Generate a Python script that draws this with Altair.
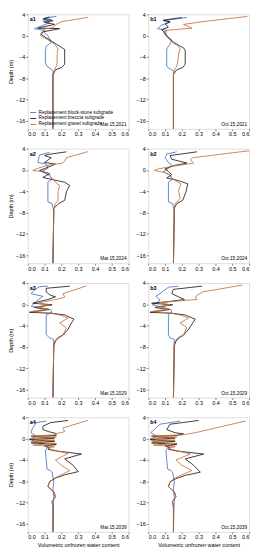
import altair as alt
import pandas as pd

SERIES = ["Replacement block-stone subgrade", "Replacement breccia subgrade", "Replacement gravel subgrade"]
COLORS = ["#4a6fc6", "#1c1c1c", "#c8703a"]
X_TICKS = [0.0, 0.1, 0.2, 0.3, 0.4, 0.5, 0.6]
Y_TICKS = [4, 0, -4, -8, -12, -16]

# ---- a1 (Mar.15,2021)
a1_block_d = [3.6, 3.3, 3.0, 2.7, 2.4, 1.3, 1.0, 0.5, 0.0, -0.6, -1.3, -2.0, -3.0, -5.0, -5.8, -6.3, -6.7, -8.0, -17.5]
a1_block_w = [0.17, 0.10, 0.14, 0.09, 0.13, 0.04, 0.10, 0.10, 0.12, 0.13, 0.14, 0.11, 0.105, 0.105, 0.115, 0.14, 0.15, 0.15, 0.15]
a1_breccia_d = [3.5, 3.1, 2.8, 2.5, 2.1, 1.4, 1.3, 0.7, 0.2, -0.4, -1.0, -1.6, -2.2, -2.6, -5.4, -6.0, -6.4, -7.4, -17.5]
a1_breccia_w = [0.13, 0.09, 0.15, 0.10, 0.16, 0.06, 0.19, 0.09, 0.08, 0.11, 0.14, 0.17, 0.20, 0.22, 0.22, 0.20, 0.165, 0.15, 0.15]
a1_gravel_d = [3.45, 2.6, 2.1, 1.5, 1.3, 0.6, 0.0, -0.8, -1.6, -2.4, -3.5, -5.0, -5.8, -6.3, -7.2, -9.0, -17.5]
a1_gravel_w = [0.36, 0.20, 0.17, 0.15, 0.11, 0.08, 0.075, 0.12, 0.16, 0.18, 0.175, 0.175, 0.17, 0.16, 0.15, 0.15, 0.15]

# ---- b1 (Oct.15,2021)
b1_block_d = [3.4, 2.8, 2.5, 2.0, 1.3, 1.0, 0.2, -0.4, -1.0, -1.6, -2.0, -2.6, -5.7, -6.1, -6.6, -8.0, -17.5]
b1_block_w = [0.23, 0.09, 0.13, 0.08, 0.055, 0.11, 0.10, 0.12, 0.14, 0.13, 0.12, 0.11, 0.11, 0.12, 0.15, 0.15, 0.15]
b1_breccia_d = [3.4, 2.9, 2.6, 2.2, 1.6, 1.1, 0.5, 0.0, -0.6, -1.2, -1.8, -2.3, -2.8, -5.4, -6.0, -6.4, -7.3, -17.5]
b1_breccia_w = [0.20, 0.09, 0.13, 0.10, 0.12, 0.08, 0.10, 0.11, 0.13, 0.15, 0.18, 0.21, 0.22, 0.22, 0.205, 0.17, 0.15, 0.15]
b1_gravel_d = [3.6, 2.6, 2.1, 1.4, 1.0, 0.6, 0.1, -0.5, -1.2, -1.8, -2.4, -3.5, -5.0, -5.7, -6.2, -7.0, -9.0, -17.5]
b1_gravel_w = [0.59, 0.32, 0.21, 0.26, 0.11, 0.09, 0.10, 0.12, 0.14, 0.17, 0.19, 0.18, 0.175, 0.17, 0.16, 0.15, 0.15, 0.15]

# ---- a2 (Mar.15,2024)
a2_block_d = [3.3, 2.8, 1.4, 1.1, 0.3, -0.3, -1.0, -1.7, -2.3, -6.0, -6.3, -7.8, -17.5]
a2_block_w = [0.13, 0.07, 0.06, 0.11, 0.12, 0.08, 0.13, 0.145, 0.12, 0.12, 0.145, 0.155, 0.15]
a2_breccia_d = [3.4, 2.9, 2.7, 2.3, 1.4, 1.1, 0.5, -0.1, -0.7, -1.4, -1.7, -2.0, -2.3, -2.9, -4.1, -5.7, -6.3, -7.2, -17.5]
a2_breccia_w = [0.23, 0.12, 0.10, 0.14, 0.10, 0.165, 0.12, 0.07, 0.13, 0.09, 0.13, 0.175, 0.22, 0.25, 0.23, 0.22, 0.185, 0.155, 0.15]
a2_gravel_d = [3.45, 2.3, 1.7, 1.3, 0.8, 0.3, -0.1, -0.3, -0.7, -1.7, -2.6, -2.9, -4.1, -5.7, -6.3, -7.2, -17.5]
a2_gravel_w = [0.36, 0.23, 0.22, 0.21, 0.11, 0.06, 0.03, 0.09, 0.125, 0.145, 0.175, 0.19, 0.18, 0.18, 0.165, 0.155, 0.15]

# ---- b2 (Oct.15,2024)
b2_block_d = [3.4, 3.0, 2.3, 1.4, 0.9, 0.3, -0.3, -1.0, -1.7, -2.3, -6.0, -6.3, -7.8, -17.5]
b2_block_w = [0.17, 0.11, 0.10, 0.12, 0.14, 0.12, 0.09, 0.13, 0.145, 0.12, 0.12, 0.145, 0.155, 0.15]
b2_breccia_d = [3.4, 2.7, 2.0, 1.7, 1.3, 0.8, 0.2, -0.3, -0.9, -1.5, -2.0, -2.6, -4.1, -5.7, -6.3, -7.2, -17.5]
b2_breccia_w = [0.29, 0.13, 0.14, 0.18, 0.23, 0.15, 0.10, 0.12, 0.14, 0.11, 0.18, 0.235, 0.225, 0.205, 0.17, 0.155, 0.15]
b2_gravel_d = [3.6, 2.3, 1.9, 1.3, 0.7, 0.2, -0.1, -0.5, -1.0, -1.7, -2.6, -3.8, -5.4, -6.3, -7.2, -17.5]
b2_gravel_w = [0.60, 0.265, 0.25, 0.27, 0.15, 0.06, 0.035, 0.10, 0.13, 0.145, 0.195, 0.18, 0.19, 0.16, 0.155, 0.15]

# ---- a3 (Mar.15,2029)
a3_block_d = [3.4, 3.3, 2.7, 2.0, 1.7, 1.5, 0.8, 0.2, -0.4, -0.7, -1.0, -1.5, -2.0, -5.7, -6.3, -6.6, -17.5]
a3_block_w = [0.12, 0.07, 0.04, 0.02, 0.06, 0.09, 0.06, 0.04, 0.02, 0.08, 0.135, 0.145, 0.11, 0.11, 0.13, 0.155, 0.15]
a3_breccia_d = [3.4, 3.0, 2.3, 1.7, 1.4, 0.9, 0.2, -0.1, -0.6, -1.0, -1.5, -1.7, -2.0, -2.8, -3.5, -4.7, -5.8, -6.3, -6.9, -7.8, -17.5]
a3_breccia_w = [0.25, 0.11, 0.11, 0.135, 0.165, 0.12, 0.03, 0.145, 0.04, 0.125, 0.01, 0.145, 0.22, 0.275, 0.26, 0.24, 0.21, 0.185, 0.165, 0.155, 0.15]
a3_gravel_d = [3.45, 2.0, 1.3, 0.9, 0.5, 0.2, -0.1, -0.5, -0.9, -1.3, -1.7, -2.1, -2.6, -3.5, -4.4, -5.7, -6.3, -7.2, -17.5]
a3_gravel_w = [0.35, 0.21, 0.22, 0.165, 0.10, 0.06, 0.13, 0.05, 0.12, 0.03, 0.14, 0.20, 0.24, 0.19, 0.23, 0.21, 0.175, 0.155, 0.15]

# ---- b3 (Oct.15,2029)
b3_block_d = [3.4, 3.2, 2.0, 1.5, 0.8, 0.2, -0.1, -0.5, -1.0, -1.5, -2.0, -5.7, -6.3, -6.6, -17.5]
b3_block_w = [0.18, 0.12, 0.07, 0.045, 0.07, 0.05, 0.025, 0.08, 0.135, 0.14, 0.12, 0.12, 0.13, 0.155, 0.15]
b3_breccia_d = [3.4, 2.8, 2.0, 1.4, 0.9, 0.5, 0.2, -0.1, -0.6, -1.0, -1.5, -1.7, -2.0, -2.8, -3.5, -4.7, -5.8, -6.3, -6.9, -7.8, -17.5]
b3_breccia_w = [0.32, 0.15, 0.14, 0.18, 0.215, 0.12, 0.02, 0.145, 0.04, 0.125, 0.01, 0.145, 0.22, 0.28, 0.265, 0.24, 0.21, 0.185, 0.165, 0.155, 0.15]
b3_gravel_d = [3.6, 2.3, 1.4, 0.9, 0.7, 0.3, -0.1, -0.5, -0.9, -1.3, -1.7, -2.1, -2.6, -3.5, -4.4, -5.7, -6.3, -7.2, -17.5]
b3_gravel_w = [0.56, 0.32, 0.28, 0.29, 0.205, 0.07, 0.13, 0.05, 0.12, 0.03, 0.14, 0.20, 0.24, 0.19, 0.23, 0.21, 0.175, 0.155, 0.15]

# ---- a4 (Mar.15,2039)
a4_block_d = [3.3, 3.0, 2.0, 1.4, 1.1, 0.5, -0.1, -0.6, -1.0, -1.5, -2.3, -5.7, -6.0, -6.3, -8.1, -9.5, -11.0, -17.5]
a4_block_w = [0.11, 0.05, 0.03, 0.02, 0.02, 0.05, 0.02, 0.04, 0.10, 0.12, 0.105, 0.115, 0.135, 0.145, 0.155, 0.15, 0.155, 0.15]
a4_breccia_d = [3.4, 3.0, 2.3, 1.7, 1.3, 1.0, 0.6, 0.4, 0.1, -0.2, -0.5, -0.8, -1.1, -1.4, -1.7, -2.0, -2.3, -2.9, -3.8, -5.0, -6.2, -6.8, -7.4, -8.1, -9.0, -10.0, -10.9, -11.8, -13.0, -17.5]
a4_breccia_w = [0.24, 0.135, 0.09, 0.09, 0.125, 0.165, 0.17, 0.02, 0.16, 0.01, 0.16, 0.02, 0.17, 0.10, 0.13, 0.12, 0.165, 0.32, 0.22, 0.27, 0.30, 0.22, 0.165, 0.13, 0.12, 0.155, 0.165, 0.145, 0.15, 0.15]
a4_gravel_d = [3.45, 2.0, 1.3, 0.9, 0.7, 0.5, 0.3, 0.0, -0.3, -0.6, -0.9, -1.2, -1.5, -1.8, -2.1, -2.8, -4.0, -5.0, -6.0, -6.8, -7.4, -8.1, -9.0, -10.0, -10.9, -11.8, -13.0, -17.5]
a4_gravel_w = [0.36, 0.21, 0.22, 0.165, 0.16, 0.02, 0.17, 0.01, 0.16, 0.02, 0.17, 0.03, 0.16, 0.12, 0.15, 0.24, 0.165, 0.20, 0.25, 0.20, 0.16, 0.13, 0.12, 0.155, 0.165, 0.145, 0.15, 0.15]

# ---- b4 (Oct.15,2039)
b4_block_d = [3.3, 2.7, 1.7, 1.1, 0.5, -0.1, -0.6, -1.0, -1.5, -2.3, -5.7, -6.0, -6.3, -8.1, -9.5, -11.0, -17.5]
b4_block_w = [0.19, 0.07, 0.035, 0.015, 0.05, 0.02, 0.04, 0.10, 0.12, 0.105, 0.115, 0.135, 0.145, 0.155, 0.15, 0.155, 0.15]
b4_breccia_d = [3.4, 2.7, 1.7, 1.1, 0.9, 0.6, 0.4, 0.1, -0.2, -0.5, -0.8, -1.1, -1.4, -1.7, -2.0, -2.3, -2.9, -3.8, -5.0, -6.3, -6.9, -7.5, -8.1, -9.0, -10.0, -10.9, -11.8, -13.0, -17.5]
b4_breccia_w = [0.30, 0.13, 0.11, 0.16, 0.21, 0.17, 0.02, 0.16, 0.01, 0.16, 0.02, 0.17, 0.10, 0.13, 0.12, 0.165, 0.33, 0.22, 0.27, 0.31, 0.22, 0.165, 0.13, 0.12, 0.155, 0.165, 0.145, 0.15, 0.15]
b4_gravel_d = [3.3, 1.7, 1.1, 0.7, 0.5, 0.3, 0.0, -0.3, -0.6, -0.9, -1.2, -1.5, -1.8, -2.1, -2.9, -4.0, -5.0, -6.0, -6.8, -7.4, -8.1, -9.0, -10.0, -10.9, -11.8, -13.0, -17.5]
b4_gravel_w = [0.58, 0.36, 0.28, 0.20, 0.02, 0.17, 0.01, 0.16, 0.02, 0.17, 0.03, 0.16, 0.12, 0.15, 0.25, 0.165, 0.20, 0.26, 0.20, 0.16, 0.13, 0.12, 0.155, 0.165, 0.145, 0.15, 0.15]

PANELS = [
    ("a1", "Mar.15,2021", [(a1_block_d, a1_block_w), (a1_breccia_d, a1_breccia_w), (a1_gravel_d, a1_gravel_w)]),
    ("b1", "Oct.15,2021", [(b1_block_d, b1_block_w), (b1_breccia_d, b1_breccia_w), (b1_gravel_d, b1_gravel_w)]),
    ("a2", "Mar.15,2024", [(a2_block_d, a2_block_w), (a2_breccia_d, a2_breccia_w), (a2_gravel_d, a2_gravel_w)]),
    ("b2", "Oct.15,2024", [(b2_block_d, b2_block_w), (b2_breccia_d, b2_breccia_w), (b2_gravel_d, b2_gravel_w)]),
    ("a3", "Mar.15,2029", [(a3_block_d, a3_block_w), (a3_breccia_d, a3_breccia_w), (a3_gravel_d, a3_gravel_w)]),
    ("b3", "Oct.15,2029", [(b3_block_d, b3_block_w), (b3_breccia_d, b3_breccia_w), (b3_gravel_d, b3_gravel_w)]),
    ("a4", "Mar.15,2039", [(a4_block_d, a4_block_w), (a4_breccia_d, a4_breccia_w), (a4_gravel_d, a4_gravel_w)]),
    ("b4", "Oct.15,2039", [(b4_block_d, b4_block_w), (b4_breccia_d, b4_breccia_w), (b4_gravel_d, b4_gravel_w)]),
]

W, H = 102, 116
FONT = "Liberation Sans"


def panel_df(lines):
    rows = []
    for s, (d, w) in zip(SERIES, lines):
        for i, (dd, ww) in enumerate(zip(d, w)):
            rows.append({"series": s, "depth": dd, "wc": ww, "order": i})
    return pd.DataFrame(rows)


def make_panel(idx, name, date, lines):
    left = idx % 2 == 0
    bottom = idx >= 6
    df = panel_df(lines)
    x_axis = alt.Axis(values=X_TICKS, format=".1f", grid=False, domain=False,
                      tickSize=2, labelFontSize=5.5, labelPadding=1,
                      title="Volumetric unfrozen water content" if bottom else None,
                      titleFontSize=5.5, titleFontWeight="normal", titlePadding=2)
    y_axis = alt.Axis(values=Y_TICKS, grid=False, domain=False, tickSize=2,
                      labelFontSize=5.5, labelPadding=1,
                      title="Depth (m)" if left else None,
                      titleFontSize=5.5, titleFontWeight="normal", titlePadding=2)
    if idx == 0:
        legend = alt.Legend(orient="bottom-left", title=None, symbolType="stroke",
                            symbolSize=36, symbolStrokeWidth=0.9, labelFontSize=4.8,
                            rowPadding=-1, offset=2, padding=0, labelOffset=2,
                            labelLimit=200, labelFont=FONT)
    else:
        legend = None
    lines_chart = alt.Chart(df).mark_line(strokeWidth=0.85, clip=True).encode(
        x=alt.X("wc:Q", scale=alt.Scale(domain=[0, 0.6], nice=False, zero=False), axis=x_axis),
        y=alt.Y("depth:Q", scale=alt.Scale(domain=[-17.5, 4], nice=False, zero=False), axis=y_axis),
        color=alt.Color("series:N", scale=alt.Scale(domain=SERIES, range=COLORS), legend=legend),
        detail="series:N",
        order="order:Q",
    )
    tag = alt.Chart(pd.DataFrame({"t": [name]})).mark_text(
        align="left", baseline="top", fontSize=5.5, fontWeight="bold", font=FONT, color="#000"
    ).encode(text="t:N", x=alt.value(2), y=alt.value(3))
    when = alt.Chart(pd.DataFrame({"t": [date]})).mark_text(
        align="right", baseline="bottom", fontSize=4.8, font=FONT, color="#000"
    ).encode(text="t:N", x=alt.value(W - 2), y=alt.value(H - 2))
    return alt.layer(lines_chart, tag, when).properties(width=W, height=H)


charts = [make_panel(i, n, d, l) for i, (n, d, l) in enumerate(PANELS)]

chart = alt.concat(*charts, columns=2, spacing={"row": 8, "column": 6}, align="each").resolve_scale(
    color="independent"
).configure_view(stroke="#808080", strokeWidth=0.6).configure_axis(
    labelFont=FONT, titleFont=FONT, tickColor="#555", tickWidth=0.6, labelColor="#222", titleColor="#222"
).configure(background="white", padding=0)

chart.save("out.html", embed_options={"renderer": "svg", "actions": False})
